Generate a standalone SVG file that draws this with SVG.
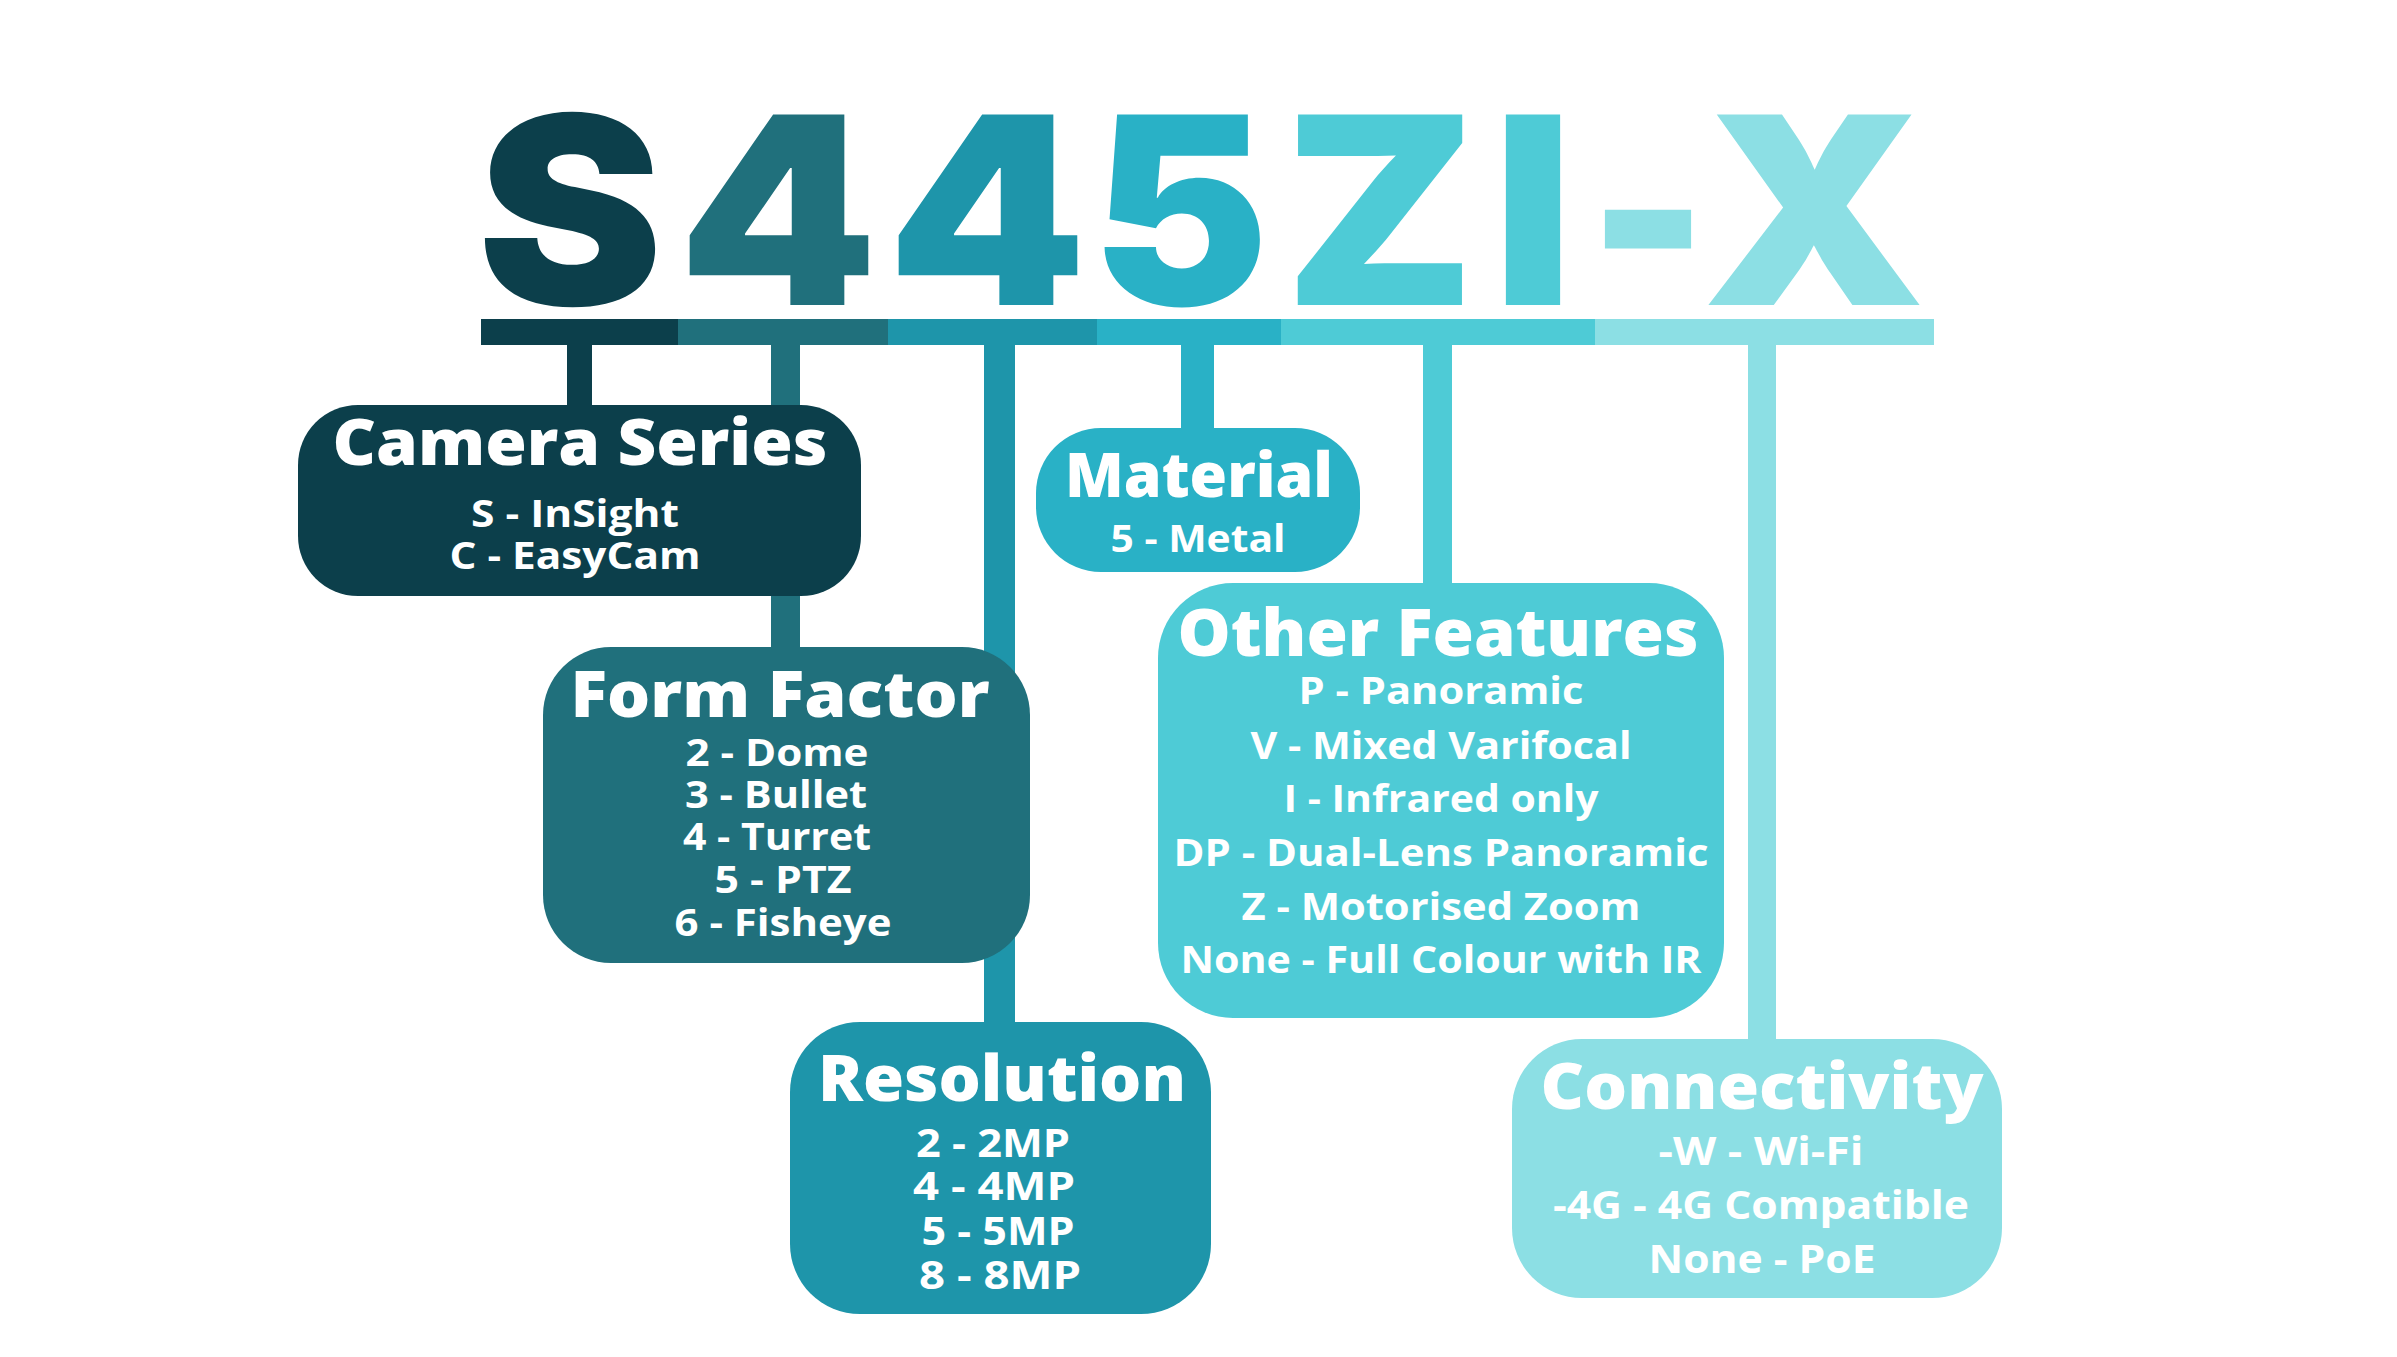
<svg xmlns="http://www.w3.org/2000/svg" width="2397" height="1357" viewBox="0 0 2397 1357">
<style>
.t{font-family:"Open Sans","Liberation Sans",sans-serif;fill:#fff;text-anchor:middle}
.h{font-size:64px;font-weight:800}
.b{font-size:37px;font-weight:700}
.g{font-family:"Inter","Open Sans","Liberation Sans",sans-serif;font-weight:900;font-size:262px;text-anchor:middle}
.c1{fill:#0c3f4b}.c2{fill:#20707c}.c3{fill:#1e95aa}.c4{fill:#29b1c6}.c5{fill:#4ecbd6}.c6{fill:#8cdfe4}
</style>
<rect width="2397" height="1357" fill="#fff"/>
<g id="title">
<text class="g c1" x="570" y="305" textLength="186" lengthAdjust="spacingAndGlyphs">S</text>
<text class="g c2" x="778" y="305" textLength="200" lengthAdjust="spacingAndGlyphs">4</text>
<text class="g c3" x="987" y="305" textLength="200" lengthAdjust="spacingAndGlyphs">4</text>
<text class="g c4" x="1180" y="305" textLength="178" lengthAdjust="spacingAndGlyphs">5</text>
<text class="g c5" x="1380" y="305" textLength="192" lengthAdjust="spacingAndGlyphs">Z</text>
<text class="g c5" x="1533" y="305" textLength="80" lengthAdjust="spacingAndGlyphs">I</text>
<text class="g c6" x="1648" y="305" textLength="120" lengthAdjust="spacingAndGlyphs">-</text>
<text class="g c6" x="1814" y="305" textLength="224" lengthAdjust="spacingAndGlyphs">X</text>
</g>
<g id="connectors">
<rect class="c1" x="481" y="319" width="197" height="26"/>
<rect class="c2" x="678" y="319" width="210" height="26"/>
<rect class="c3" x="888" y="319" width="209" height="26"/>
<rect class="c4" x="1097" y="319" width="184" height="26"/>
<rect class="c5" x="1281" y="319" width="314" height="26"/>
<rect class="c6" x="1595" y="319" width="339" height="26"/>
<rect class="c1" x="567" y="340" width="25" height="70"/>
<rect class="c2" x="771" y="340" width="29" height="312"/>
<rect class="c3" x="984" y="340" width="31" height="686"/>
<rect class="c4" x="1181" y="340" width="33" height="92"/>
<rect class="c5" x="1423" y="340" width="29" height="248"/>
<rect class="c6" x="1748" y="340" width="28" height="703"/>
</g>
<g id="camera-series">
<rect class="c1" x="298" y="405" width="563" height="191" rx="60"/>
<text class="t h" x="580" y="465" textLength="495" lengthAdjust="spacingAndGlyphs">Camera Series</text>
<text class="t b" x="575" y="527" textLength="208" lengthAdjust="spacingAndGlyphs">S - InSight</text>
<text class="t b" x="575" y="569" textLength="251" lengthAdjust="spacingAndGlyphs">C - EasyCam</text>
</g>
<g id="form-factor">
<rect class="c2" x="543" y="647" width="487" height="316" rx="68"/>
<text class="t h" x="780" y="717" textLength="419" lengthAdjust="spacingAndGlyphs">Form Factor</text>
<text class="t b" x="777" y="766" textLength="183" lengthAdjust="spacingAndGlyphs">2 - Dome</text>
<text class="t b" x="776" y="808" textLength="182" lengthAdjust="spacingAndGlyphs">3 - Bullet</text>
<text class="t b" x="777" y="850" textLength="188" lengthAdjust="spacingAndGlyphs">4 - Turret</text>
<text class="t b" x="783" y="893" textLength="137" lengthAdjust="spacingAndGlyphs">5 - PTZ</text>
<text class="t b" x="783" y="936" textLength="217" lengthAdjust="spacingAndGlyphs">6 - Fisheye</text>
</g>
<g id="material">
<rect class="c4" x="1036" y="428" width="324" height="144" rx="65"/>
<text class="t h" x="1199" y="497" style="font-size:62px" textLength="268" lengthAdjust="spacingAndGlyphs">Material</text>
<text class="t b" x="1198" y="552" style="font-size:38px" textLength="175" lengthAdjust="spacingAndGlyphs">5 - Metal</text>
</g>
<g id="other-features">
<rect class="c5" x="1158" y="583" width="566" height="435" rx="75"/>
<text class="t h" x="1438" y="656" style="font-size:66px" textLength="521" lengthAdjust="spacingAndGlyphs">Other Features</text>
<text class="t b" x="1441" y="704" style="font-size:38px" textLength="285" lengthAdjust="spacingAndGlyphs">P - Panoramic</text>
<text class="t b" x="1441" y="759" style="font-size:38px" textLength="381" lengthAdjust="spacingAndGlyphs">V - Mixed Varifocal</text>
<text class="t b" x="1441" y="812" style="font-size:38px" textLength="315" lengthAdjust="spacingAndGlyphs">I - Infrared only</text>
<text class="t b" x="1441" y="866" style="font-size:38px" textLength="535" lengthAdjust="spacingAndGlyphs">DP - Dual-Lens Panoramic</text>
<text class="t b" x="1441" y="920" style="font-size:38px" textLength="399" lengthAdjust="spacingAndGlyphs">Z - Motorised Zoom</text>
<text class="t b" x="1441" y="973" style="font-size:38px" textLength="521" lengthAdjust="spacingAndGlyphs">None - Full Colour with IR</text>
</g>
<g id="resolution">
<rect class="c3" x="790" y="1022" width="421" height="292" rx="70"/>
<text class="t h" x="1002" y="1101" textLength="368" lengthAdjust="spacingAndGlyphs">Resolution</text>
<text class="t b" x="993" y="1157" style="font-size:39px" textLength="154" lengthAdjust="spacingAndGlyphs">2 - 2MP</text>
<text class="t b" x="994" y="1200" style="font-size:39px" textLength="162" lengthAdjust="spacingAndGlyphs">4 - 4MP</text>
<text class="t b" x="998" y="1245" style="font-size:39px" textLength="153" lengthAdjust="spacingAndGlyphs">5 - 5MP</text>
<text class="t b" x="1000" y="1289" style="font-size:39px" textLength="162" lengthAdjust="spacingAndGlyphs">8 - 8MP</text>
</g>
<g id="connectivity">
<rect class="c6" x="1512" y="1039" width="490" height="259" rx="70"/>
<text class="t h" x="1762" y="1109" textLength="443" lengthAdjust="spacingAndGlyphs">Connectivity</text>
<text class="t b" x="1761" y="1165" style="font-size:39px" textLength="205" lengthAdjust="spacingAndGlyphs">-W - Wi-Fi</text>
<text class="t b" x="1761" y="1219" style="font-size:39px" textLength="416" lengthAdjust="spacingAndGlyphs">-4G - 4G Compatible</text>
<text class="t b" x="1762" y="1273" style="font-size:39px" textLength="227" lengthAdjust="spacingAndGlyphs">None - PoE</text>
</g>
</svg>
